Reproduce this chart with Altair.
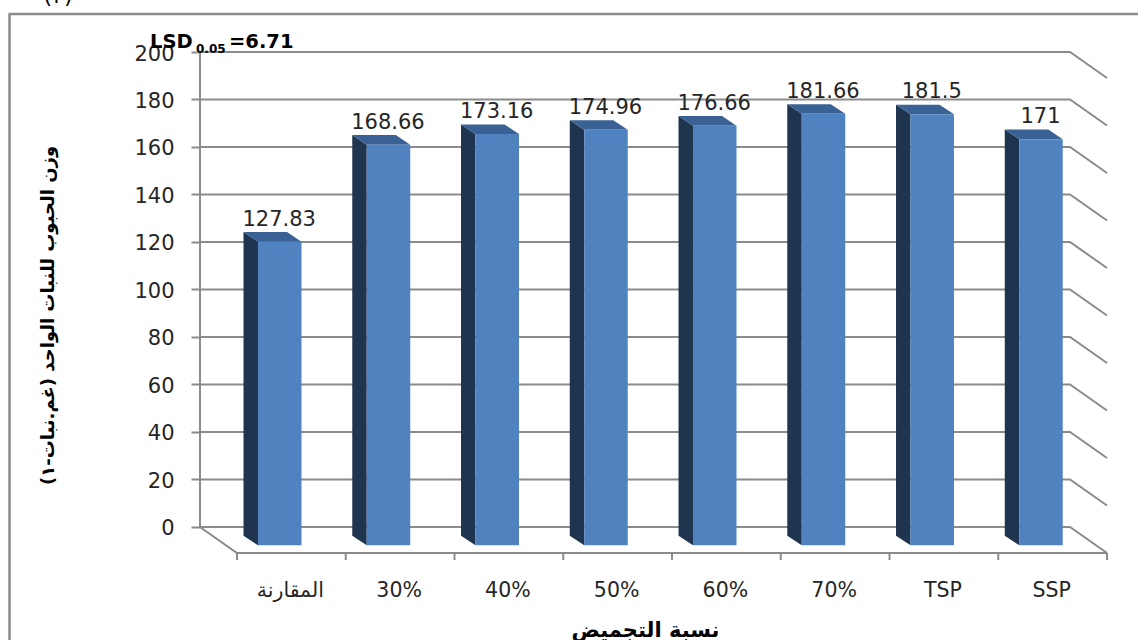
import json
import altair as alt
import pandas as pd

# Chart content
categories = ["المقارنة", "30%", "40%", "50%", "60%", "70%", "TSP", "SSP"]
grain_weight = [127.83, 168.66, 173.16, 174.96, 176.66, 181.66, 181.5, 171]
value_labels = ["127.83", "168.66", "173.16", "174.96", "176.66", "181.66", "181.5", "171"]
y_ticks = [0, 20, 40, 60, 80, 100, 120, 140, 160, 180, 200]
y_title = "وزن الحبوب للنبات الواحد (غم.نبات-١)"
x_title = "نسبة التجميض"
lsd_parts = ["LSD", "0.05", "=6.71"]
figure_number = "(٢)"

# Oblique projection of the 3-D column chart, in axis units
WALL_DX = 0.3402    # back wall sits this far left of the floor front
WALL_DY = 10.95     # and this far above it
BAR_LEFT_BACK = 0.06
BAR_LEFT_FRONT = 0.193
BAR_RIGHT_FRONT = 0.593
BAR_BASE_BACK = -3.66
BAR_BASE_FRONT = -7.7
BOTTOM = -13.9

GRID = "#8b8b8b"
TEXT = "#262626"
FONT = "DejaVu Sans"

x_scale = alt.Scale(domain=[-WALL_DX, 8], nice=False, zero=False)
y_scale = alt.Scale(domain=[BOTTOM, 200], nice=False, zero=False)

label_expr = json.dumps(categories, ensure_ascii=False) + "[floor(datum.value)]"
x_axis = alt.Axis(
    values=[i + 0.5 for i in range(8)], labelExpr=label_expr, ticks=False, domain=False,
    grid=False, labelFont=FONT, labelFontSize=20.5, labelColor=TEXT, labelPadding=20,
    labelOffset=-1.5, labelOverlap=False, titleFont=FONT, titleFontSize=21,
    titleFontWeight="bold", titleColor="#000000", titleX=445, titleY=76,
    titleBaseline="alphabetic",
)
y_axis = alt.Axis(
    values=y_ticks, tickSize=9, tickWidth=2, tickColor=GRID, domain=False, grid=False,
    labelFont=FONT, labelFontSize=21, labelColor=TEXT, labelPadding=17, labelOffset=2,
    titleFont=FONT, titleFontSize=18, titleFontWeight="bold", titleColor="#000000",
    titleX=-152, titleY=263, titleAngle=-90, titleBaseline="middle",
)
X = lambda: alt.X("x:Q", scale=x_scale, axis=x_axis, title=x_title)
Y = lambda: alt.Y("y:Q", scale=y_scale, axis=y_axis, title=y_title)

# Gridlines wrapping the back and side walls, floor edges, and floor ticks
wall_rows = []
def add_segment(points):
    seg = wall_rows[-1]["seg"] + 1 if wall_rows else 0
    for k, (px, py) in enumerate(points):
        wall_rows.append({"seg": seg, "k": k, "x": px, "y": py})

for v in y_ticks:
    add_segment([(-WALL_DX, v), (8 - WALL_DX, v), (8, v - WALL_DY)])
add_segment([(-WALL_DX, 200), (-WALL_DX, 0), (0, -WALL_DY), (8, -WALL_DY)])
for i in range(9):
    add_segment([(i, -WALL_DY), (i, BOTTOM)])
walls = pd.DataFrame(wall_rows)

wall_layer = alt.Chart(walls).mark_line(color=GRID, strokeWidth=2, strokeJoin="miter").encode(
    x=X(), y=Y(), detail="seg:N", order="k:Q"
)

# Column faces derived from the values
rows_side, rows_top, rows_front, rows_label = [], [], [], []
for i, (cat, v, lab) in enumerate(zip(categories, grain_weight, value_labels)):
    top_back = v + BAR_BASE_BACK
    top_front = v + BAR_BASE_FRONT
    right_back = BAR_RIGHT_FRONT - (BAR_LEFT_FRONT - BAR_LEFT_BACK)
    rows_side += [
        {"bar": i, "x": i + BAR_LEFT_BACK, "y": top_back, "y2": BAR_BASE_BACK},
        {"bar": i, "x": i + BAR_LEFT_FRONT, "y": top_front, "y2": BAR_BASE_FRONT},
    ]
    # the top parallelogram, swept left to right between its upper and lower edges
    rows_top += [
        {"bar": i, "x": i + BAR_LEFT_BACK, "y": top_back, "y2": top_back},
        {"bar": i, "x": i + BAR_LEFT_FRONT, "y": top_back, "y2": top_front},
        {"bar": i, "x": i + right_back, "y": top_back, "y2": top_front},
        {"bar": i, "x": i + BAR_RIGHT_FRONT, "y": top_front, "y2": top_front},
    ]
    rows_front.append({"x": i + BAR_LEFT_FRONT, "x2": i + BAR_RIGHT_FRONT,
                       "y": top_front, "y2": BAR_BASE_FRONT})
    rows_label.append({"x": i + (BAR_LEFT_FRONT + BAR_RIGHT_FRONT) / 2, "y": top_back, "label": lab})

side_layer = alt.Chart(pd.DataFrame(rows_side)).mark_area(color="#1f344f", interpolate="linear").encode(
    x=X(), y=Y(), y2="y2:Q", detail="bar:N"
)
top_layer = alt.Chart(pd.DataFrame(rows_top)).mark_area(color="#3a6194", interpolate="linear").encode(
    x=X(), y=Y(), y2="y2:Q", detail="bar:N"
)
front_layer = alt.Chart(pd.DataFrame(rows_front)).mark_rect(color="#5082bf").encode(
    x=X(), x2="x2:Q", y=Y(), y2="y2:Q"
)
label_layer = alt.Chart(pd.DataFrame(rows_label)).mark_text(
    baseline="alphabetic", dx=-0.5, dy=-6.5, fontSize=21, font=FONT, color=TEXT
).encode(x=X(), y=Y(), text="label:N")

# Outer chart border, running off the top-right of the page
one = pd.DataFrame({"a": [0]})
border_v = alt.Chart(one).mark_rule(color=GRID, strokeWidth=2.5).encode(
    x=alt.value(-190.5), y=alt.value(-38), y2=alt.value(600)
)
border_h = alt.Chart(one).mark_rule(color=GRID, strokeWidth=2.5).encode(
    x=alt.value(-191.5), x2=alt.value(960), y=alt.value(-38)
)

# Figure number of the caption above the chart, cut by the page edge
caption_layer = alt.Chart(pd.DataFrame({"t": [figure_number]})).mark_text(
    baseline="alphabetic", font=FONT, fontSize=22, color="#000000"
).encode(x=alt.value(-142), y=alt.value(-49), text="t:N")

# LSD annotation with its subscript
lsd = pd.DataFrame({"part": lsd_parts, "dx": [-50, -4, 29], "dy": [-4, 1, -4], "size": [19.5, 12, 19.5]})
lsd_layers = [
    alt.Chart(lsd.iloc[[j]]).mark_text(
        align="left", baseline="alphabetic", font=FONT, fontWeight="bold", color="#000000",
        fontSize=float(lsd["size"].iloc[j])
    ).encode(x=alt.value(int(lsd["dx"].iloc[j])), y=alt.value(int(lsd["dy"].iloc[j])), text="part:N")
    for j in range(3)
]

chart = alt.layer(
    border_v, border_h, wall_layer, side_layer, top_layer, front_layer,
    label_layer, caption_layer, *lsd_layers
).properties(
    width=907, height=508,
    padding={"left": 200, "top": 52, "right": 31, "bottom": 80},
    autosize=alt.AutoSizeParams(type="none"),
    background="#ffffff",
).configure_view(stroke=None)

chart.save("out.html", embed_options={"renderer": "svg", "actions": False})
